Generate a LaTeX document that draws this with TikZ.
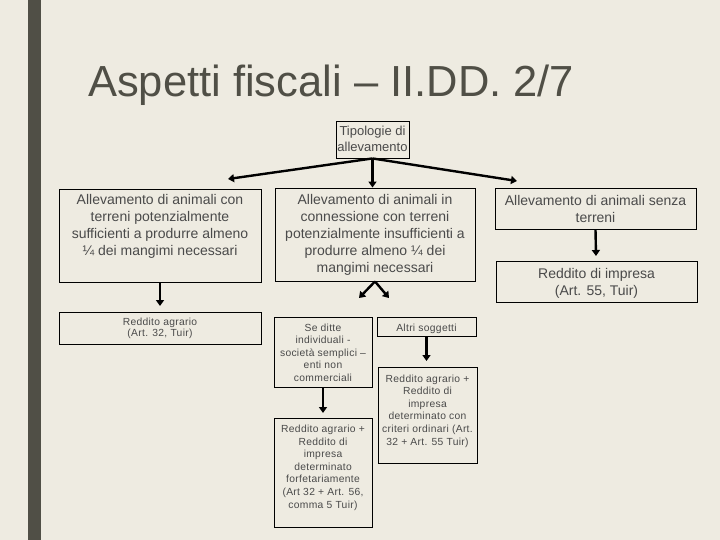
\documentclass[tikz,border=0pt]{standalone}
\usepackage{fontspec}
\setmainfont{Liberation Sans}
\usetikzlibrary{arrows.meta}
\definecolor{bgc}{HTML}{EEEBE1}
\definecolor{barc}{HTML}{504F46}
\definecolor{txtc}{HTML}{4A4A4A}
\begin{document}
\begin{tikzpicture}[x=1pt,y=-1pt,
  box/.style={draw=black,line width=0.9pt,inner sep=0pt},
  big/.style={inner sep=0pt,align=center,text=txtc,font=\fontsize{14pt}{17pt}\selectfont,anchor=north},
  mid/.style={inner sep=0pt,align=center,text=txtc,font=\fontsize{13pt}{16pt}\selectfont,anchor=north},
  small/.style={inner sep=0pt,align=center,text=txtc,font=\fontsize{10.3pt}{12.6pt}\selectfont\addfontfeature{LetterSpace=3},anchor=north},
  arr/.style={line width=2.4pt,-{Triangle[length=6pt,width=8pt]}}]
\useasboundingbox (0,0) rectangle (720,540);
\fill[bgc] (0,0) rectangle (720,540);
\fill[barc] (28,0) rectangle (41,540);
\node[anchor=base west,inner sep=0pt,text=barc,font=\fontsize{43.5pt}{44pt}\selectfont] (title) at (88,97) {Aspetti fiscali – II.DD. 2/7};

% boxes
\node[box,minimum width=73pt,minimum height=37pt] (top) at (372.5,139.5) {};
\node[box,minimum width=202pt,minimum height=93pt] (lb) at (160,235.5) {};
\node[box,minimum width=200pt,minimum height=93pt] (mb) at (375,234.5) {};
\node[box,minimum width=201pt,minimum height=41pt] (rb) at (595.5,208.5) {};
\node[box,minimum width=201pt,minimum height=41pt] (rb2) at (596.5,281.5) {};
\node[box,minimum width=202pt,minimum height=32pt] (lb2) at (160,328) {};
\node[box,minimum width=98pt,minimum height=70pt] (sd) at (323,352) {};
\node[box,minimum width=99pt,minimum height=19pt] (as) at (426.5,326.5) {};
\node[box,minimum width=98pt,minimum height=109pt] (rf) at (323,472.5) {};
\node[box,minimum width=99pt,minimum height=96pt] (ro) at (427.5,415) {};

% texts
\node[mid] (topt) at ([yshift=-5.3pt]top.north) {Tipologie di\\allevamento};
\node[big] (lbt) at ([yshift=-5.5pt]lb.north) {Allevamento di animali con\\terreni potenzialmente\\sufficienti a produrre almeno\\¼ dei mangimi necessari};
\node[big] (mbt) at ([yshift=-7pt]mb.north) {Allevamento di animali in\\connessione con terreni\\potenzialmente insufficienti a\\produrre almeno ¼ dei\\mangimi necessari};
\node[big] (rbt) at ([yshift=-7.3pt]rb.north) {Allevamento di animali senza\\terreni};
\node[big] (rb2t) at ([yshift=-7.7pt]rb2.north) {Reddito di impresa\\(Art. 55, Tuir)};
\node[small,font=\fontsize{10.3pt}{10.7pt}\selectfont\addfontfeature{LetterSpace=3}] (lb2t) at ([yshift=-6.5pt]lb2.north) {Reddito agrario\\(Art. 32, Tuir)};
\node[small] (sdt) at ([yshift=-6.9pt]sd.north) {Se ditte\\individuali -\\società semplici –\\enti non\\commerciali};
\node[small] (ast) at ([yshift=-6.9pt]as.north) {Altri soggetti};
\node[small] (rot) at ([yshift=-7.9pt]ro.north) {Reddito agrario +\\Reddito di\\impresa\\determinato con\\criteri ordinari (Art.\\32 + Art. 55 Tuir)};
\node[small] (rft) at ([yshift=-7.2pt]rf.north) {Reddito agrario +\\Reddito di\\impresa\\determinato\\forfetariamente\\(Art 32 + Art. 56,\\comma 5 Tuir)};

% arrows
\coordinate (l1) at (228,179);
\coordinate (r1) at (517,181);
\coordinate (l2) at (160,306);
\coordinate (m1) at (359,298);
\coordinate (m2) at (389,298);
\coordinate (r2) at (596,256);
\coordinate (s1) at (323,413);
\coordinate (a1) at (426.5,361);
\draw[arr] (top.south) -- (l1);
\draw[arr] (top.south) -- (r1);
\draw[arr] (top.south) -- (top.south |- mb.north);
\draw[arr] (lb.south) -- (l2);
\draw[arr] (mb.south) -- (m1);
\draw[arr] (mb.south) -- (m2);
\draw[arr] (rb.south) -- (r2);
\draw[arr] (sd.south) -- (s1);
\draw[arr] (as.south) -- (a1);
\end{tikzpicture}
\end{document}
